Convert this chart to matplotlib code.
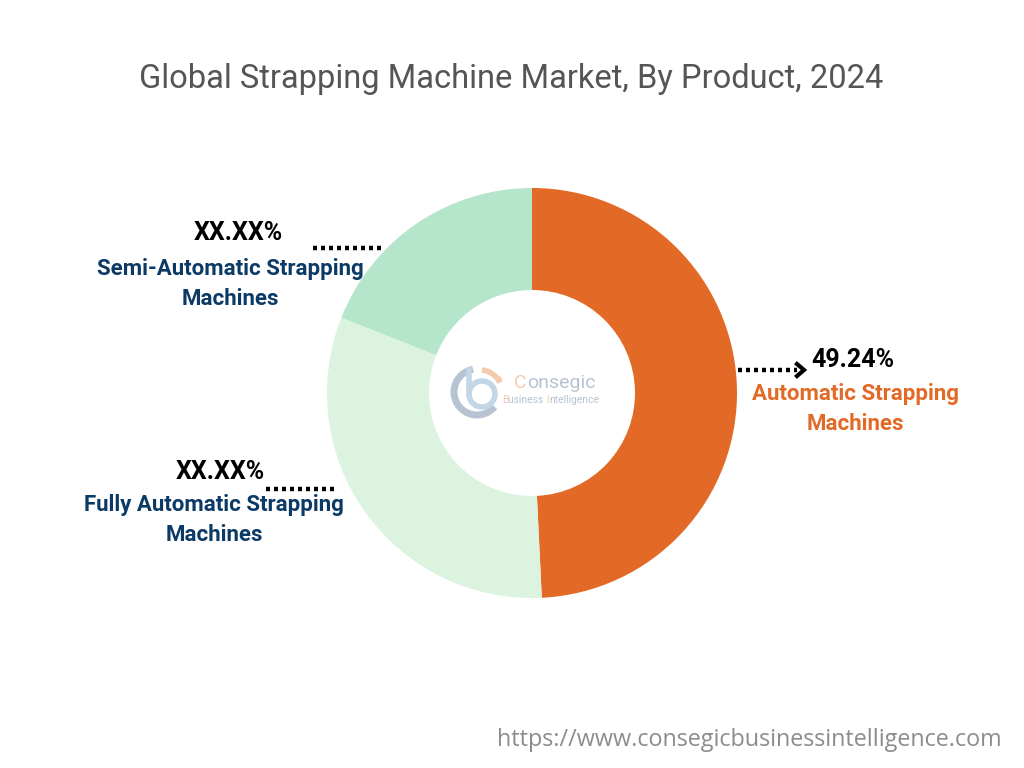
import matplotlib
matplotlib.use("Agg")
import matplotlib.pyplot as plt
from matplotlib.patches import Arc, Circle

# data
products = ["Automatic Strapping\nMachines",
            "Fully Automatic Strapping\nMachines",
            "Semi-Automatic Strapping\nMachines"]
shares = [49.24, 31.75, 19.01]
share_labels = ["49.24%", "XX.XX%", "XX.XX%"]
colors = ["#E36A26", "#DCF3E0", "#B5E5CA"]
label_colors = ["#E36A26", "#0B3A66", "#0B3A66"]

W, H = 1024, 768
fig = plt.figure(figsize=(W / 100, H / 100), dpi=100)
ax = fig.add_axes([0, 0, 1, 1])

def Y(y):
    # image pixel row -> data y
    return H - y

cx, cy, r = 532, Y(393), 205
ax.pie(shares, colors=colors, startangle=90, counterclock=False,
       center=(cx, cy), radius=r, frame=True,
       wedgeprops=dict(width=r - 103, edgecolor="none"))
ax.set_xlim(0, W)
ax.set_ylim(0, H)
ax.set_aspect("equal")
ax.axis("off")

# title
ax.text(511, Y(79), "Global Strapping Machine Market, By Product, 2024",
        ha="center", va="center", fontsize=23.5, color="#555555",
        family="Roboto")

bold = dict(family="Roboto", fontweight="bold")
dot = dict(color="black", linewidth=3.2, linestyle=(0, (0.9, 0.9)),
           solid_capstyle="butt", dash_capstyle="butt")
pct_size = 18
lab_size = 16

# automatic
ax.plot([738, 797], [Y(370), Y(370)], **dot)
ax.plot([797, 804, 797], [Y(364), Y(370), Y(376)], color="black",
        linewidth=3, solid_joinstyle="miter")
ax.text(853, Y(360), share_labels[0], ha="center", va="center",
        fontsize=pct_size, color="black", **bold)
ax.text(855, Y(409), products[0], ha="center", va="center",
        fontsize=lab_size, color=label_colors[0], linespacing=1.5, **bold)

# fully automatic
ax.plot([266, 336], [Y(489), Y(489)], **dot)
ax.text(220, Y(472), share_labels[1], ha="center", va="center",
        fontsize=pct_size, color="black", **bold)
ax.text(214, Y(520), products[1], ha="center", va="center",
        fontsize=lab_size, color=label_colors[1], linespacing=1.5, **bold)

# semi automatic
ax.plot([313, 383], [Y(248), Y(248)], **dot)
ax.text(238, Y(233), share_labels[2], ha="center", va="center",
        fontsize=pct_size, color="black", **bold)
ax.text(230, Y(284), products[2], ha="center", va="center",
        fontsize=lab_size, color=label_colors[2], linespacing=1.5, **bold)

# watermark logo
gray_blue = "#B7C3D2"
light_blue = "#C3D6E8"
peach = "#F5CBAE"
ax.add_patch(Arc((477, Y(392)), 46, 46, theta1=100, theta2=320,
                 color=gray_blue, linewidth=5))
ax.add_patch(Arc((482, Y(394)), 26, 26, theta1=0, theta2=360,
                 color=light_blue, linewidth=4))
ax.plot([469, 469], [Y(394), Y(370)], color=light_blue, linewidth=4)
ax.add_patch(Arc((480, Y(392)), 44, 44, theta1=25, theta2=85,
                 color=peach, linewidth=4))
ax.add_patch(Circle((499, Y(379)), 2, color=peach))

renderer = fig.canvas.get_renderer()

def width(s, size):
    t = ax.text(0, 0, s, fontsize=size, family="Roboto")
    w = t.get_window_extent(renderer).width
    t.remove()
    return w

def pieces(x, y, parts, size):
    # lay out coloured pieces of one line side by side
    done = ""
    for s, c in parts:
        done += s
        left = x + width(done, size) - width(s, size)
        ax.text(left, y, s, ha="left", va="center", fontsize=size,
                color=c, family="Roboto")

pieces(514, Y(383), [("C", peach), ("onsegic", gray_blue)], 14)
pieces(502, Y(400), [("B", peach), ("usiness ", gray_blue),
                     ("I", peach), ("ntelligence", gray_blue)], 7.4)

# url
ax.text(1002, Y(740), "https://www.consegicbusinessintelligence.com",
        ha="right", va="center", fontsize=16.8, color="#8C8C8C",
        family="Open Sans")

fig.savefig("out.png", dpi=100)
